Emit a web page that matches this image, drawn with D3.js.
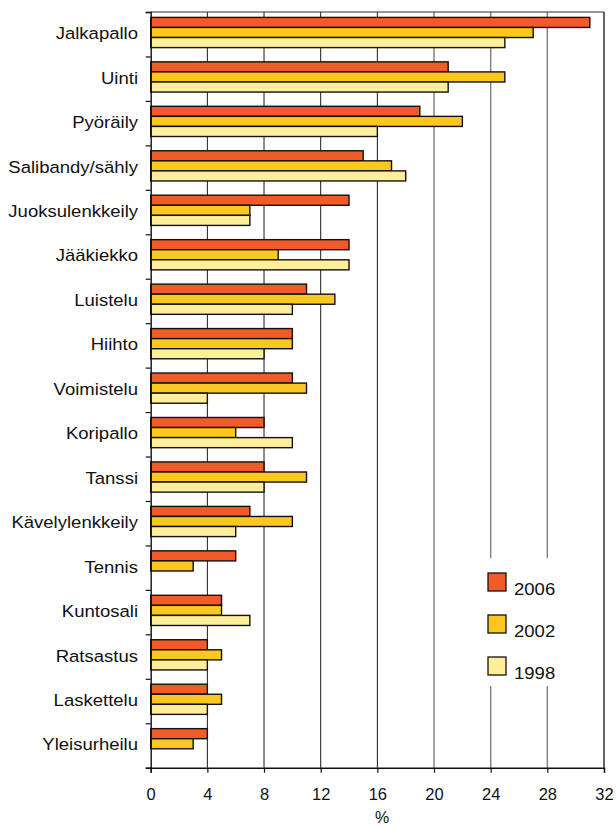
<!DOCTYPE html>
<html>
<head>
<meta charset="utf-8">
<script src="https://cdn.jsdelivr.net/npm/d3@7"></script>
<style>
  html, body { margin: 0; padding: 0; background: #fff; }
  svg { display: block; font-family: "Liberation Sans", Arial, sans-serif; }
</style>
</head>
<body>
<svg id="chart" width="616" height="825"></svg>
<script>
// Harrastetut liikuntalajit (%), kolme kyselyvuotta
const categories = [
  "Jalkapallo", "Uinti", "Pyöräily", "Salibandy/sähly", "Juoksulenkkeily",
  "Jääkiekko", "Luistelu", "Hiihto", "Voimistelu", "Koripallo", "Tanssi",
  "Kävelylenkkeily", "Tennis", "Kuntosali", "Ratsastus", "Laskettelu", "Yleisurheilu"
];
const series = ["2006", "2002", "1998"];
const values2006 = [31, 21, 19, 15, 14, 14, 11, 10, 10, 8, 8, 7, 6, 5, 4, 4, 4];
const values2002 = [27, 25, 22, 17, 7, 9, 13, 10, 11, 6, 11, 10, 3, 5, 5, 5, 3];
const values1998 = [25, 21, 16, 18, 7, 14, 10, 8, 4, 10, 8, 6, null, 7, 4, 4, null];
const xTicks = [0, 4, 8, 12, 16, 20, 24, 28, 32];
const axisTitle = "%";

const colors = { "2006": "#F15A29", "2002": "#FCC71F", "1998": "#FFEE9A" };
const seriesValues = { "2006": values2006, "2002": values2002, "1998": values1998 };

const svg = d3.select("#chart");
const plotLeft = 150.7, plotRight = 604, plotTop = 12, plotBottom = 767.7;
const labelStretch = 1.09; // slightly wide lettering for labels and legend

const x = d3.scaleLinear().domain([0, 32]).range([plotLeft, plotRight]);
const y = d3.scaleBand().domain(categories).range([plotTop, plotBottom]).padding(0);
const ySub = d3.scaleBand().domain(series).range([5.4, 35.6]).padding(0);

// vertical gridlines
svg.append("g").selectAll("line")
  .data(xTicks.filter(t => t > 0 && t < 32))
  .join("line")
  .attr("x1", d => x(d)).attr("x2", d => x(d))
  .attr("y1", plotTop).attr("y2", plotBottom)
  .attr("stroke", d => d >= 20 ? "#7d7d7d" : "#1a1a1a")
  .attr("stroke-width", d => d >= 20 ? 1.4 : 1);

// frame: top and right edges
svg.append("line").attr("x1", plotLeft).attr("x2", plotRight).attr("y1", plotTop).attr("y2", plotTop)
  .attr("stroke", "#333").attr("stroke-width", 1.2);
svg.append("line").attr("x1", plotRight).attr("x2", plotRight).attr("y1", plotTop).attr("y2", plotBottom)
  .attr("stroke", "#111").attr("stroke-width", 1.3);

// legend background interrupts the gridlines
const legendX = 488, legendY = 573, legendGap = 42;
svg.append("rect")
  .attr("x", 470).attr("y", 558).attr("width", 128).attr("height", 128)
  .attr("fill", "#fff");

// bars
const groups = svg.append("g").selectAll("g")
  .data(categories)
  .join("g")
  .attr("transform", d => `translate(0,${y(d)})`);

groups.selectAll("rect")
  .data((c, i) => series.map(s => ({ s, v: seriesValues[s][i] })).filter(d => d.v != null))
  .join("rect")
  .attr("x", x(0))
  .attr("y", d => ySub(d.s))
  .attr("width", d => x(d.v) - x(0))
  .attr("height", ySub.bandwidth())
  .attr("fill", d => colors[d.s])
  .attr("stroke", "#111")
  .attr("stroke-width", 1.4);

// category axis
const yAxis = d3.axisLeft(d3.scaleLinear().domain([0, categories.length]).range([plotTop, plotBottom]))
  .tickValues(d3.range(categories.length + 1))
  .tickSize(5)
  .tickFormat("");
const gy = svg.append("g").attr("transform", `translate(${plotLeft},0)`).call(yAxis);
gy.select(".domain").attr("stroke", "#111").attr("stroke-width", 1.4);
gy.selectAll(".tick line").attr("stroke", "#111").attr("stroke-width", 1.2);

svg.append("g").selectAll("text")
  .data(categories)
  .join("text")
  .attr("transform", d => `translate(138,${y(d) + y.bandwidth() / 2 - 1}) scale(${labelStretch},1)`)
  .attr("dy", "0.35em")
  .attr("text-anchor", "end")
  .attr("font-size", 17)
  .attr("fill", "#111")
  .text(d => d);

// value axis
const xAxis = d3.axisBottom(x).tickValues(xTicks).tickSize(5).tickPadding(16);
const gx = svg.append("g").attr("transform", `translate(0,${plotBottom})`).call(xAxis);
gx.select(".domain").attr("stroke", "#111").attr("stroke-width", 1.4);
gx.selectAll(".tick line").attr("stroke", "#111").attr("stroke-width", 1.2);
gx.selectAll(".tick text")
  .attr("font-size", 16.5).attr("fill", "#111")
  .attr("font-family", "Liberation Sans, Arial, sans-serif");

svg.append("text")
  .attr("x", 382).attr("y", 823)
  .attr("text-anchor", "middle")
  .attr("font-size", 16).attr("fill", "#111")
  .text(axisTitle);

// legend
const legend = svg.append("g").selectAll("g")
  .data(series)
  .join("g")
  .attr("transform", (d, i) => `translate(${legendX},${legendY + i * legendGap})`);
legend.append("rect")
  .attr("width", 18).attr("height", 18)
  .attr("fill", d => colors[d])
  .attr("stroke", "#111").attr("stroke-width", 1.3);
legend.append("text")
  .attr("transform", `translate(26,22) scale(${labelStretch},1)`)
  .attr("font-size", 17).attr("fill", "#111")
  .text(d => d);
</script>
</body>
</html>
